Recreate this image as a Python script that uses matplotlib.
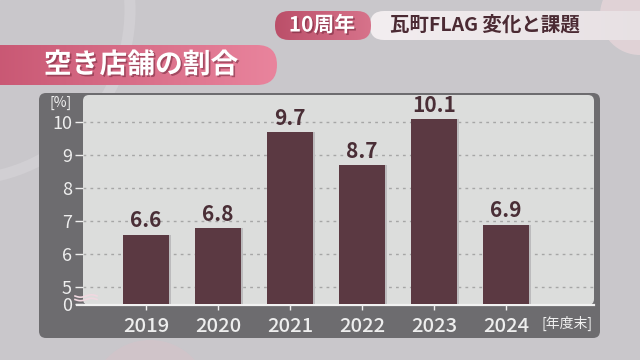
import numpy as np
import matplotlib.pyplot as plt
from matplotlib.patches import FancyBboxPatch, Circle
from matplotlib.colors import LinearSegmentedColormap
import matplotlib.patheffects as pe

plt.rcParams['font.family'] = ['Noto Sans CJK JP', 'DejaVu Sans']

years = ['2019', '2020', '2021', '2022', '2023', '2024']
vacancy = [6.6, 6.8, 9.7, 8.7, 10.1, 6.9]
tick_values = [0, 5, 6, 7, 8, 9, 10]
title = '空き店舗の割合'
badge = '10周年'
series_title = '瓦町FLAG 変化と課題'
y_unit = '[%]'
x_unit = '[年度末]'

BREAK_AT = 5
BREAK_GAP = 0.5   # 0..5 squeezed into half a unit


def squash(v):
    """map a real value onto the broken axis"""
    if v >= BREAK_AT:
        return v - BREAK_AT + BREAK_GAP
    return v * BREAK_GAP / BREAK_AT


BAR = '#5b3942'
PANEL = '#6d6c6f'
PLOT_BG = '#dcdddc'

fig = plt.figure(figsize=(6.4, 3.6), dpi=100)

# ---------------------------------------------------------
# background / decoration in pixel coordinates
# ---------------------------------------------------------
bg = fig.add_axes([0, 0, 1, 1])
bg.add_patch(plt.Rectangle((0, 0), 640, 360, color='#c9c7cb', zorder=0))
bg.add_patch(Circle((-40, 10), 170, fc='none', ec='#d1cfd3', lw=8, zorder=0.5))
bg.add_patch(Circle((150, 400), 60, fc='#d6c2c9', ec='none', alpha=0.6, zorder=0.5))
bg.add_patch(Circle((640, 15), 40, fc='#e6d6da', ec='none', alpha=0.8, zorder=0.5))


def gradient_box(x0, y0, w, h, c0, c1, r):
    box = FancyBboxPatch((x0, y0), w, h, boxstyle=f'round,pad=0,rounding_size={r}',
                         fc='none', ec='none', zorder=2)
    bg.add_patch(box)
    grad = np.linspace(0, 1, 256).reshape(1, -1)
    cmap = LinearSegmentedColormap.from_list('g', [c0, c1])
    im = bg.imshow(grad, cmap=cmap, extent=(x0, x0 + w, y0 + h, y0),
                   aspect='auto', zorder=2)
    im.set_clip_path(box)


# header pills
gradient_box(370, 11, 300, 29, '#f3eef0', '#e6dfe2', 14)
gradient_box(275, 11, 96, 29, '#bb4f69', '#d7738b', 14)
gradient_box(-30, 45, 307, 40, '#c65470', '#e9849d', 20)
bg.set_xlim(0, 640)
bg.set_ylim(360, 0)
bg.axis('off')

shadow = [pe.withSimplePatchShadow(offset=(1.2, -1.2), shadow_rgbFace='#6a2035', alpha=0.5)]
bg.text(141, 65, title, color='white', fontsize=20, fontweight='bold',
        ha='center', va='center', zorder=3, path_effects=shadow)
bg.text(322, 25, badge, color='white', fontsize=15, fontweight='bold',
        ha='center', va='center', zorder=3, path_effects=shadow)
bg.text(485, 25, series_title, color='#4b2a33', fontsize=14, fontweight='bold',
        ha='center', va='center', zorder=3)

# chart frame
bg.add_patch(FancyBboxPatch((39, 93), 561, 245, boxstyle='round,pad=0,rounding_size=7',
                            fc=PANEL, ec='none', zorder=1))
bg.add_patch(FancyBboxPatch((83, 95), 511, 210, boxstyle='round,pad=0,rounding_size=6',
                            fc=PLOT_BG, ec='none', zorder=1.5))
bg.plot([77, 594], [304.5, 304.5], color='#f2f2f2', lw=1.6, zorder=4)

# axis break mark
wx = np.linspace(75, 97, 60)
for dy in (296, 299.5):
    bg.plot(wx, dy + 1.2 * np.sin((wx - 75) / 22 * 2 * np.pi), color='#f0d8e0', lw=1.2, zorder=4)

bg.text(61, 103, y_unit, color='#f0f0f0', fontsize=10, ha='center', va='center', zorder=3)
bg.text(567, 323, x_unit, color='#f0f0f0', fontsize=10, ha='center', va='center', zorder=3)

# ---------------------------------------------------------
# bar chart
# ---------------------------------------------------------
ax = fig.add_axes([83 / 640, 1 - 304 / 360, (594 - 83) / 640, (304 - 96) / 360])
ax.set_facecolor('none')
for s in ax.spines.values():
    s.set_visible(False)

x = np.arange(len(years))
heights = [squash(v) for v in vacancy]
ax.bar(x + 0.025, heights, width=0.64, color='#bcbbbd', zorder=2)
ax.bar(x, heights, width=0.64, color=BAR, zorder=3)

for xi, h, v in zip(x, heights, vacancy):
    ax.text(xi, h + 0.1, f'{v:g}', ha='center', va='bottom', color='#4a2e36',
            fontsize=15, fontweight='bold', zorder=4)

ticks = [squash(t) for t in tick_values]
ax.set_yticks(ticks)
ax.set_yticklabels([str(t) for t in tick_values])
for t in ticks[1:]:
    ax.axhline(t, color='#a6a6a6', lw=1, ls=(0, (2, 3)), zorder=1)

ax.set_xticks(x)
ax.set_xticklabels(years)
ax.set_xlim(-0.875, 6.22)
ax.set_ylim(0, 6.3)

ax.tick_params(axis='y', colors='#eeeeee', length=6, width=1, pad=2, labelsize=13)
ax.tick_params(axis='x', colors='#eeeeee', length=4, width=1, pad=5, labelsize=14.5)
for lab in ax.get_xticklabels():
    lab.set_fontweight('medium')

fig.savefig('out.png', dpi=100)
